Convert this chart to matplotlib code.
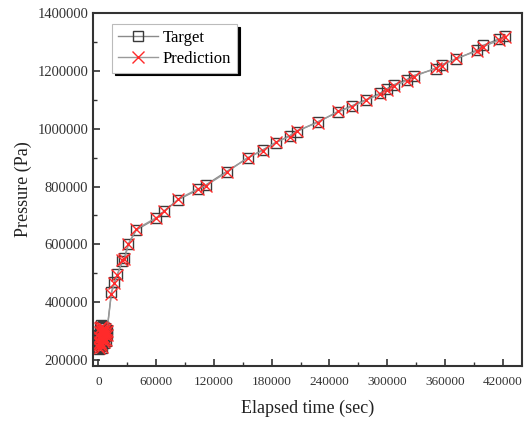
import matplotlib.pyplot as plt
from matplotlib.ticker import MultipleLocator

plt.rcParams["font.family"] = ["Liberation Serif", "DejaVu Serif"]

# early (dense) part of the record
t_early = [0, 300, 600, 900, 1200, 1500, 1800, 2100, 2400, 2700, 3000, 3400, 3800,
           4200, 4600, 5000, 5400, 5800, 6200, 6600, 7000, 7500, 8000, 8500, 9000]
p_early = [245000, 262000, 238000, 285000, 255000, 300000, 270000, 315000, 250000,
           292000, 320000, 268000, 305000, 240000, 288000, 318000, 275000, 296000,
           258000, 310000, 282000, 300000, 265000, 290000, 305000]
pred_early = [250000, 258000, 242000, 280000, 262000, 296000, 276000, 310000, 256000,
              298000, 314000, 272000, 300000, 246000, 292000, 312000, 270000, 302000,
              262000, 306000, 286000, 296000, 270000, 286000, 300000]

# later part
t_late = [13500, 16600, 19800, 25000, 27000, 31200, 39500, 60300, 68600, 83200,
          104000, 111300, 133100, 155000, 170600, 184100, 198600, 206000, 227800,
          248600, 263100, 277700, 292200, 299500, 306800, 320300, 327600, 350500,
          356700, 371300, 393100, 399400, 416000, 422200]
p_late = [434000, 469000, 497000, 541000, 552000, 603000, 650000, 690000, 717000, 755000,
          790000, 805000, 852000, 898000, 927000, 951000, 976000, 990000, 1024000,
          1057000, 1079000, 1100000, 1122000, 1138000, 1152000, 1170000, 1184000, 1207000,
          1222000, 1240000, 1272000, 1288000, 1310000, 1320000]
pred_late = [430000, 466000, 495000, 545000, 548000, 600000, 653000, 693000, 714000, 757000,
             793000, 802000, 849000, 900000, 924000, 953000, 973000, 993000, 1021000,
             1060000, 1076000, 1098000, 1119000, 1134000, 1148000, 1166000, 1180000, 1210000,
             1218000, 1243000, 1268000, 1283000, 1306000, 1316000]

time = t_early + t_late
target = p_early + p_late
prediction = pred_early + pred_late

fig = plt.figure(figsize=(5.32, 4.21), dpi=100)
ax = fig.add_axes([0.175, 0.131, 0.806, 0.838])

ax.plot(time, target, color="#8a8a8a", lw=1.0, marker="s", ms=7.5,
        mfc="none", mec="#3a3a3a", mew=1.0, label="Target")
ax.plot(time, prediction, color="#9a9a9a", lw=1.0, marker="x", ms=8.5,
        mec="#ff2a2a", mew=1.0, label="Prediction")

ax.set_xlim(-5500, 440000)
ax.set_ylim(180000, 1400000)
ax.xaxis.set_major_locator(MultipleLocator(60000))
ax.xaxis.set_minor_locator(MultipleLocator(30000))
ax.yaxis.set_major_locator(MultipleLocator(200000))
ax.yaxis.set_minor_locator(MultipleLocator(100000))
ax.ticklabel_format(style="plain", useOffset=False)
ax.tick_params(which="both", direction="in", colors="#333333")
ax.tick_params(axis="x", labelsize=9.5, pad=7)
ax.tick_params(axis="y", labelsize=10.5)
ax.tick_params(which="major", length=5, width=1.2)
ax.tick_params(which="minor", length=3, width=1.0)
for s in ax.spines.values():
    s.set_color("#333333")
    s.set_linewidth(1.5)

ax.set_xlabel("Elapsed time (sec)", fontsize=13, color="#222222", labelpad=9)
ax.set_ylabel("Pressure (Pa)", fontsize=13, color="#222222")

leg = ax.legend(loc="upper left", bbox_to_anchor=(0.044, 0.969), borderaxespad=0,
                fontsize=12, fancybox=False, edgecolor="#bbbbbb", framealpha=1,
                shadow={"color": "black", "alpha": 1}, handlelength=2.4,
                borderpad=0.35, labelspacing=0.3, handletextpad=0.3)
leg.get_frame().set_linewidth(0.8)

fig.savefig("out.png", dpi=100)
